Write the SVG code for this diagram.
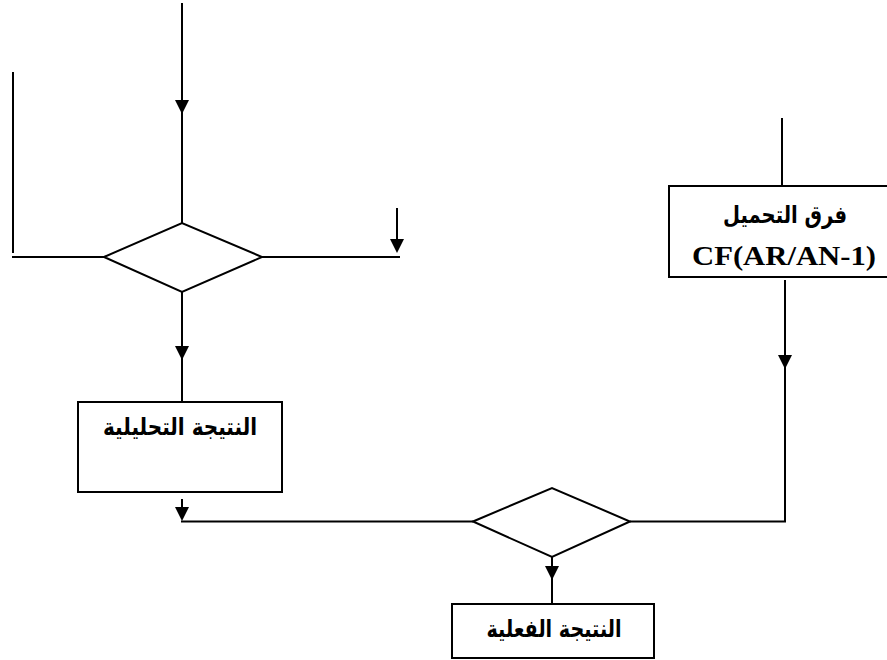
<svg xmlns="http://www.w3.org/2000/svg" xmlns:xlink="http://www.w3.org/1999/xlink" width="887" height="660" viewBox="0 0 887 660">
  <style>
    .ln { stroke: #000; stroke-width: 2; fill: none; }
    .box { stroke: #000; stroke-width: 2; fill: #fff; }
    .ar { font-family: "DejaVu Sans", "Noto Sans", sans-serif; font-weight: bold; font-size: 24px; fill: #000; text-anchor: middle; }
    .lat { font-family: "Liberation Serif", serif; font-weight: bold; font-size: 28px; fill: #000; text-anchor: middle; }
  </style>
  <defs>
    <!-- downward arrowhead, tip at origin -->
    <path id="ah" d="M-7,-14 L7,-14 L0,0 Z" fill="#000"/>
  </defs>

  <g id="connectors">
    <line class="ln" x1="182" y1="3" x2="182" y2="223"/>
    <line class="ln" x1="13" y1="72" x2="13" y2="253"/>
    <line class="ln" x1="12" y1="257" x2="104" y2="257"/>
    <line class="ln" x1="262" y1="257" x2="400" y2="257"/>
    <line class="ln" x1="397" y1="208" x2="397" y2="245"/>
    <line class="ln" x1="182" y1="292" x2="182" y2="402"/>
    <line class="ln" x1="182" y1="499" x2="182" y2="515"/>
    <line class="ln" x1="181" y1="521.5" x2="473" y2="521.5"/>
    <line class="ln" x1="630" y1="521.5" x2="786" y2="521.5"/>
    <line class="ln" x1="785" y1="280" x2="785" y2="522"/>
    <line class="ln" x1="782" y1="118" x2="782" y2="186"/>
    <line class="ln" x1="552" y1="557" x2="552" y2="604"/>
    <use xlink:href="#ah" x="182" y="114"/>
    <use xlink:href="#ah" x="182" y="360"/>
    <use xlink:href="#ah" x="397" y="253"/>
    <use xlink:href="#ah" x="182" y="521"/>
    <use xlink:href="#ah" x="785" y="369"/>
    <use xlink:href="#ah" x="552" y="580"/>
  </g>

  <g id="decision-top">
    <polygon class="box" points="104,257 182,223 262,257 182,292"/>
  </g>

  <g id="analytic-result">
    <rect class="box" x="78" y="402" width="204" height="90"/>
    <text class="ar" x="180" y="435" direction="rtl" textLength="154" lengthAdjust="spacingAndGlyphs">النتيجة التحليلية</text>
  </g>

  <g id="load-difference">
    <rect class="box" x="669" y="186" width="222" height="91"/>
    <text class="ar" x="785" y="223" direction="rtl" textLength="124" lengthAdjust="spacingAndGlyphs">فرق التحميل</text>
    <text class="lat" x="784" y="265" textLength="184" lengthAdjust="spacingAndGlyphs">CF(AR/AN-1)</text>
  </g>

  <g id="decision-bottom">
    <polygon class="box" points="473,521.5 552,488 630,521.5 552,557"/>
  </g>

  <g id="actual-result">
    <rect class="box" x="452" y="604" width="202" height="54"/>
    <text class="ar" x="554" y="637" direction="rtl" textLength="135" lengthAdjust="spacingAndGlyphs">النتيجة الفعلية</text>
  </g>
</svg>
